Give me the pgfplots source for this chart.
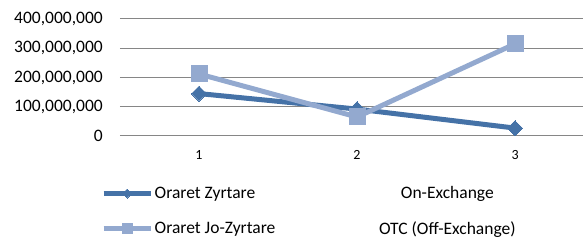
\documentclass[border=0pt]{standalone}
\usepackage{pgfplots}
\pgfplotsset{compat=1.18}
\usepackage{fontspec}
\setmainfont{Carlito}
\definecolor{sone}{RGB}{69,114,167}
\definecolor{stwo}{RGB}{147,169,207}
\definecolor{gridc}{RGB}{134,134,134}
\begin{document}
\begin{tikzpicture}[x=1pt,y=1pt]
\path[use as bounding box] (0,0) rectangle (583,240);
\begin{axis}[
  at={(120pt,104pt)}, anchor=south west,
  scale only axis, width=463pt, height=117pt,
  xmin=0.5, xmax=3.43, ymin=0, ymax=400000000,
  xtick={1,2,3}, ytick={0,100000000,200000000,300000000,400000000},
  scaled y ticks=false,
  /pgf/number format/.cd, fixed, 1000 sep={,}, assume math mode=true, /pgfplots/.cd,
  axis line style={draw=none},
  major tick length=0pt,
  ymajorgrids, grid style={gridc, line width=1pt},
  yticklabel style={font=\fontsize{17.5}{20}\selectfont, anchor=east, inner sep=0pt, xshift=-17pt},
  xticklabel style={font=\fontsize{14}{16}\selectfont, anchor=center, inner sep=0pt, yshift=-19pt},
  clip=false,
  legend columns=2,
  legend cell align=left,
  legend style={at={(-19pt,-49pt)}, anchor=north west, draw=none, fill=none,
    font=\fontsize{17.5}{20}\selectfont, inner sep=0pt, row sep=18pt,
    nodes={inner sep=1.5pt}},
  legend image code/.code={
    \draw[mark repeat=2,mark phase=2,#1, every mark/.append style={scale=0.6}] plot coordinates {(0pt,0pt)(23.5pt,0pt)(47pt,0pt)};
  },
]
\addplot[sone, line width=5pt, mark=square*, mark size=5.3pt, mark options={rotate=45, solid, line width=0pt}]
  coordinates {(1,145000000) (2,92000000) (3,27000000)};
\addlegendentry{Oraret Zyrtare}
\addlegendimage{legend image code/.code={}}
\addlegendentry{\makebox[338pt][c]{On-Exchange}}
\addplot[stwo, line width=5pt, mark=square*, mark size=8pt, mark options={solid, line width=0pt}]
  coordinates {(1,212000000) (2,65000000) (3,315000000)};
\addlegendentry{Oraret Jo-Zyrtare}
\addlegendimage{legend image code/.code={}}
\addlegendentry{\makebox[338pt][c]{OTC (Off-Exchange)}}
\end{axis}
\end{tikzpicture}
\end{document}
